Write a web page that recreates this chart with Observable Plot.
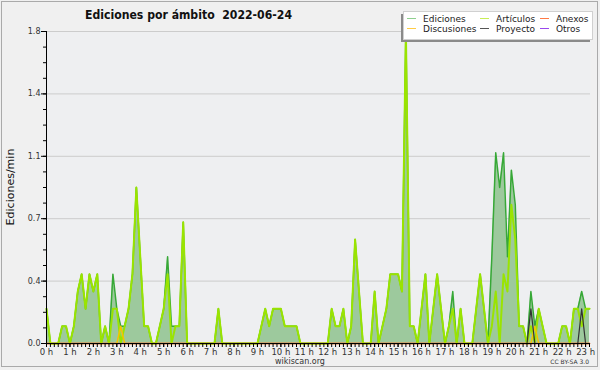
<!DOCTYPE html>
<html><head><meta charset="utf-8">
<script src="https://cdn.jsdelivr.net/npm/d3@7"></script>
<script src="https://cdn.jsdelivr.net/npm/@observablehq/plot@0.6"></script>
<style>body{margin:0;background:#f0f0f0} svg{display:block}</style>
</head><body><div id="chart"></div>
<script>
// Edits per minute, 10-minute bins from 00:00 to 23:10
const ediciones = [
0.2,0,0,0,0.1,0.1,0,0.1,0.3,0.4, 0.2,0.4,0.3,0.4,0,0.1,0,0.4,0.2,0.1,
0.1,0.2,0.4,0.9,0.5,0.1,0.1,0,0,0.1, 0.2,0.5,0.1,0.1,0.1,0.7,0,0,0,0,
0,0,0,0,0.2,0,0,0,0,0, 0,0,0,0,0,0.1,0.2,0.1,0.2,0.2,
0.2,0.1,0.1,0.1,0.1,0,0,0,0,0, 0,0,0,0.2,0.1,0.1,0.2,0,0.1,0.6,
0.3,0,0,0,0.3,0,0.1,0.2,0.4,0.4, 0.4,0.3,1.8,0.1,0.1,0,0.2,0.4,0,0.2,
0.4,0.2,0,0.1,0.3,0,0.2,0,0,0, 0.2,0.4,0.2,0,0.5,1.1,0.9,1.1,0.5,1.0,
0.8,0.1,0.1,0,0.3,0.1,0.2,0.1,0,0, 0,0,0.1,0.1,0,0.2,0.2,0.3,0.2,0.2
];
const articulos = [
0.2,0,0,0,0.1,0.1,0,0.1,0.3,0.4, 0.2,0.4,0.3,0.4,0,0.1,0,0.2,0.2,0,
0.1,0.2,0.4,0.9,0.5,0.1,0.1,0,0,0.1, 0.2,0.4,0,0.1,0.1,0.7,0,0,0,0,
0,0,0,0,0.2,0,0,0,0,0, 0,0,0,0,0,0.1,0.2,0.1,0.2,0.2,
0.2,0.1,0.1,0.1,0.1,0,0,0,0,0, 0,0,0,0.2,0.1,0.1,0.2,0,0.1,0.6,
0.3,0,0,0,0.3,0,0.1,0.2,0.4,0.4, 0.4,0.3,1.8,0.1,0.1,0,0.2,0.4,0,0.2,
0.4,0.2,0,0.1,0.2,0,0.2,0,0,0, 0.2,0.4,0.2,0,0.1,0.3,0,0.4,0.3,0.8,
0.6,0.1,0.1,0,0.1,0,0.2,0.1,0,0, 0,0,0.1,0.1,0,0.2,0.2,0.1,0.2,0.2
];
const discusiones = [
0,0,0,0,0,0,0,0,0,0, 0,0,0,0,0,0,0,0,0,0.1,
0,0,0,0,0,0,0,0,0,0, 0,0,0,0,0,0,0,0,0,0,
0,0,0,0,0,0,0,0,0,0, 0,0,0,0,0,0,0,0,0,0,
0,0,0,0,0,0,0,0,0,0, 0,0,0,0,0,0,0,0,0,0,
0,0,0,0,0,0,0,0,0,0, 0,0,0,0,0,0,0,0,0,0,
0,0,0,0,0,0,0,0,0,0, 0,0,0,0,0,0,0,0,0,0,
0,0,0,0,0,0.1,0,0,0,0, 0,0,0,0,0,0,0,0,0,0
];
const proyecto = [
0,0,0,0,0,0,0,0,0,0, 0,0,0,0,0,0,0,0,0,0,
0,0,0,0,0,0,0,0,0,0, 0,0,0,0,0,0,0,0,0,0,
0,0,0,0,0,0,0,0,0,0, 0,0,0,0,0,0,0,0,0,0,
0,0,0,0,0,0,0,0,0,0, 0,0,0,0,0,0,0,0,0,0,
0,0,0,0,0,0,0,0,0,0, 0,0,0,0,0,0,0,0,0,0,
0,0,0,0,0,0,0,0,0,0, 0,0,0,0,0,0,0,0,0,0,
0,0,0,0,0.2,0,0,0,0,0, 0,0,0,0,0,0,0,0.2,0,0
];
const anexos = [
0,0,0,0,0,0,0,0,0,0, 0,0,0,0,0,0,0,0,0,0,
0,0,0,0,0,0,0,0,0,0, 0,0,0,0,0,0,0,0,0,0,
0,0,0,0,0,0,0,0,0,0, 0,0,0,0,0,0,0,0,0,0,
0,0,0,0,0,0,0,0,0,0, 0,0,0,0,0,0,0,0,0,0,
0,0,0,0,0,0,0,0,0,0, 0,0,0,0,0,0,0,0,0,0,
0,0,0,0,0,0,0,0,0,0, 0,0,0,0,0,0,0,0,0,0,
0,0,0,0,0,0,0,0,0,0, 0,0,0,0,0,0,0,0,0,0
];
const otros = [
0,0,0,0,0,0,0,0,0,0, 0,0,0,0,0,0,0,0,0,0,
0,0,0,0,0,0,0,0,0,0, 0,0,0,0,0,0,0,0,0,0,
0,0,0,0,0,0,0,0,0,0, 0,0,0,0,0,0,0,0,0,0,
0,0,0,0,0,0,0,0,0,0, 0,0,0,0,0,0,0,0,0,0,
0,0,0,0,0,0,0,0,0,0, 0,0,0,0,0,0,0,0,0,0,
0,0,0,0,0,0,0,0,0,0, 0,0,0,0,0,0,0,0,0,0,
0,0,0,0,0,0,0,0,0,0, 0,0,0,0,0,0,0,0,0,0
];
const times = ediciones.map((_, i) => i / 6); // bin start, in hours
const hourTicks = [0,1,2,3,4,5,6,7,8,9,10,11,12,13,14,15,16,17,18,19,20,21,22,23];
const hourLabels = ["0 h","1 h","2 h","3 h","4 h","5 h","6 h","7 h","8 h","9 h","10 h","11 h","12 h","13 h","14 h","15 h","16 h","17 h","18 h","19 h","20 h","21 h","22 h","23 h"];
const yTicks = [0, 0.36, 0.72, 1.08, 1.44, 1.8];
const yTickLabels = ["0.0","0.4","0.7","1.1","1.4","1.8"];
const yMinor = d3.range(0, 1.8001, 0.09);
const xMinor = times;

const legendItems = [
  {name: "Ediciones", color: "#8fd08f", col: 0, row: 0},
  {name: "Artículos", color: "#c8ee55", col: 1, row: 0},
  {name: "Anexos", color: "#ff7a45", col: 2, row: 0},
  {name: "Discusiones", color: "#ffcc44", col: 0, row: 1},
  {name: "Proyecto", color: "#555555", col: 1, row: 1},
  {name: "Otros", color: "#9a48ee", col: 2, row: 1}
];

const font = "DejaVu Sans, Verdana, sans-serif";

const minorY = Plot.axisTickY
  ? Plot.axisTickY({ticks: yMinor, tickSize: 3, stroke: "#000"})
  : Plot.axisY({ticks: yMinor, tickFormat: () => "", tickSize: 3, stroke: "#000", label: null});
const minorX = Plot.axisTickX
  ? Plot.axisTickX({ticks: xMinor, tickSize: 4, stroke: "#000"})
  : Plot.axisX({ticks: xMinor, tickFormat: () => "", tickSize: 4, stroke: "#000", label: null});

const chart = Plot.plot({
  width: 600, height: 370,
  marginLeft: 46, marginRight: 10, marginTop: 31, marginBottom: 27,
  style: {background: "#f0f0f0", fontFamily: font, overflow: "visible"},
  x: {domain: [0, 139/6], range: [46, 589]},
  y: {domain: [0, 1.8], range: [343, 31]},
  marks: [
    Plot.frame({fill: "#eeeff1", stroke: null}),
    Plot.ruleY(yTicks, {stroke: "#cccccc", strokeWidth: 1}),
    Plot.areaY(ediciones, {x: times, y: ediciones, fill: "#9dc99d", curve: "linear"}),
    Plot.lineY(otros, {x: times, y: otros, stroke: "#9a48ee", strokeWidth: 1.5}),
    Plot.lineY(anexos, {x: times, y: anexos, stroke: "#ff7a45", strokeWidth: 1.5}),
    Plot.lineY(ediciones, {x: times, y: ediciones, stroke: "#37a837", strokeWidth: 1.5}),
    Plot.lineY(articulos, {x: times, y: articulos, stroke: "#9ae400", strokeWidth: 2}),
    Plot.lineY(discusiones, {x: times, y: discusiones, stroke: "#f5c400", strokeWidth: 1.5}),
    Plot.lineY(proyecto, {x: times, y: proyecto, stroke: "#333333", strokeWidth: 1.2}),
    minorY,
    Plot.axisY({ticks: yTicks, tickFormat: d => yTickLabels[yTicks.indexOf(d)], tickSize: 5, tickPadding: 1, fontSize: 8, color: "#000", fill: "#333", label: null}),
    minorX,
    Plot.axisX({ticks: hourTicks, tickFormat: d => hourLabels[hourTicks.indexOf(d)], tickSize: 4, tickPadding: 1, fontSize: 8.5, color: "#000", fill: "#333", label: null}),
    Plot.ruleX([0], {stroke: "#000"}),
    Plot.ruleY([0], {stroke: "#000"})
  ]
});

const svg = d3.select(chart);
// outer border
svg.insert("rect", ":first-child")
  .attr("x", 1.5).attr("y", 1.5).attr("width", 596).attr("height", 365)
  .attr("fill", "none").attr("stroke", "#aaaaaa");

// title
svg.append("text").attr("x", 85).attr("y", 19).attr("text-anchor", "start")
  .attr("font-family", "DejaVu Sans Condensed, DejaVu Sans, sans-serif")
  .attr("font-weight", "bold").attr("font-size", 13)
  .attr("textLength", 207).attr("lengthAdjust", "spacingAndGlyphs")
  .attr("fill", "#111")
  .text("Ediciones por ámbito  2022-06-24");

// y label
svg.append("text").attr("transform", "translate(14,187) rotate(-90)")
  .attr("text-anchor", "middle").attr("font-family", font).attr("font-size", 11)
  .attr("fill", "#111").text("Ediciones/min");

// credits
svg.append("text").attr("x", 300).attr("y", 364).attr("text-anchor", "middle")
  .attr("font-family", font).attr("font-size", 8).attr("fill", "#333").text("wikiscan.org");
svg.append("text").attr("x", 589).attr("y", 364).attr("text-anchor", "end")
  .attr("font-family", font).attr("font-size", 6).attr("fill", "#333").text("CC BY-SA 3.0");

// legend
const lg = svg.append("g");
lg.append("rect").attr("x", 401).attr("y", 14).attr("width", 189).attr("height", 28).attr("fill", "#8a8a8a");
lg.append("rect").attr("x", 403.5).attr("y", 11.5).attr("width", 189).attr("height", 28)
  .attr("fill", "#ffffff").attr("stroke", "#d0d0d0");
const colX = [407, 480, 540];
const rowY = [18.5, 28.5];
legendItems.forEach(it => {
  const x = colX[it.col], y = rowY[it.row];
  lg.append("line").attr("x1", x).attr("x2", x + 9).attr("y1", y).attr("y2", y)
    .attr("stroke", it.color).attr("stroke-width", 1);
  lg.append("text").attr("x", x + 16).attr("y", y + 3.5).attr("text-anchor", "start")
    .attr("font-family", font).attr("font-size", 9).attr("fill", "#222").text(it.name);
});

document.getElementById("chart").appendChild(chart);
</script>
</body></html>
